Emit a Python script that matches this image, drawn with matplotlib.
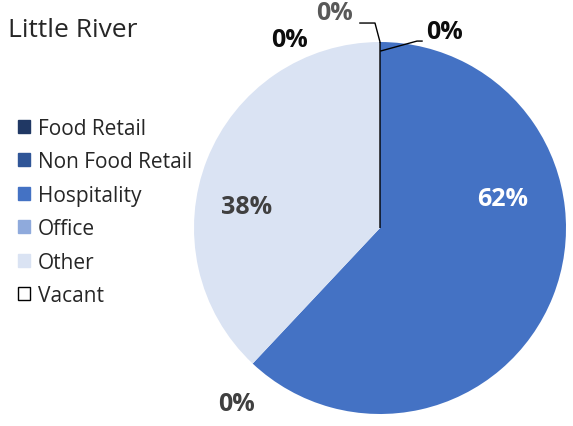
import numpy as np
import matplotlib
matplotlib.use('Agg')
import matplotlib.pyplot as plt

plt.rcParams['font.family'] = ['Open Sans', 'DejaVu Sans']

# Data
categories = ['Food Retail', 'Non Food Retail', 'Hospitality', 'Office', 'Other', 'Vacant']
values = [0, 0, 62, 0, 38, 0]
colors = ['#203864', '#2F5597', '#4472C4', '#8FAADC', '#DAE3F3', '#FFFFFF']
label_colors = ['#0D0D0D', '#595959', '#FFFFFF', '#404040', '#404040', '#0D0D0D']
title = 'Little River'

fig = plt.figure(figsize=(5.73, 4.27), dpi=100)
ax = fig.add_axes([0, 0, 1, 1])

wedges, _ = ax.pie(values, colors=colors, startangle=90, counterclock=False,
                   radius=1.0, center=(0, 0), normalize=True, frame=True)
ax.set_xlim(-2.043, 1.0376)
ax.set_ylim(-1.0645, 1.2312)
ax.axis('off')
for w in wedges:
    w.set_linewidth(0)
# vacant slice is white with a black outline
wedges[5].set_edgecolor('black')
wedges[5].set_linewidth(1.0)

# label positions (data units, pie radius = 1)
label_pos = {
    0: (0.349, 1.054),
    1: (-0.247, 1.156),
    2: (0.661, 0.161),
    3: (-0.769, -0.941),
    4: (-0.715, 0.113),
    5: (-0.484, 1.016),
}
for i, v in enumerate(values):
    x, y = label_pos[i]
    ax.text(x, y, f'{v}%', color=label_colors[i], fontsize=18, fontweight='bold',
            ha='center', va='center')

# leader lines
ax.plot([-0.108, -0.027, 0.0], [1.102, 1.102, 1.0], color='black', lw=1)
ax.plot([0.005, 0.199, 0.226], [0.952, 1.005, 1.005], color='black', lw=1)

fig.text(0.014, 0.928, title, fontsize=19, ha='left', va='center', color='#262626')

handles = []
for c in colors:
    h = plt.Rectangle((0, 0), 1, 1, facecolor=c,
                      edgecolor='black' if c == '#FFFFFF' else c, lw=1)
    handles.append(h)
fig.legend(handles, categories, loc='upper left', bbox_to_anchor=(0.031, 0.722),
           frameon=False, fontsize=15, handlelength=0.6, handleheight=0.6,
           handletextpad=0.35, labelspacing=0.60, borderaxespad=0, borderpad=0,
           labelcolor='#262626')

fig.savefig('out.png', dpi=100)
